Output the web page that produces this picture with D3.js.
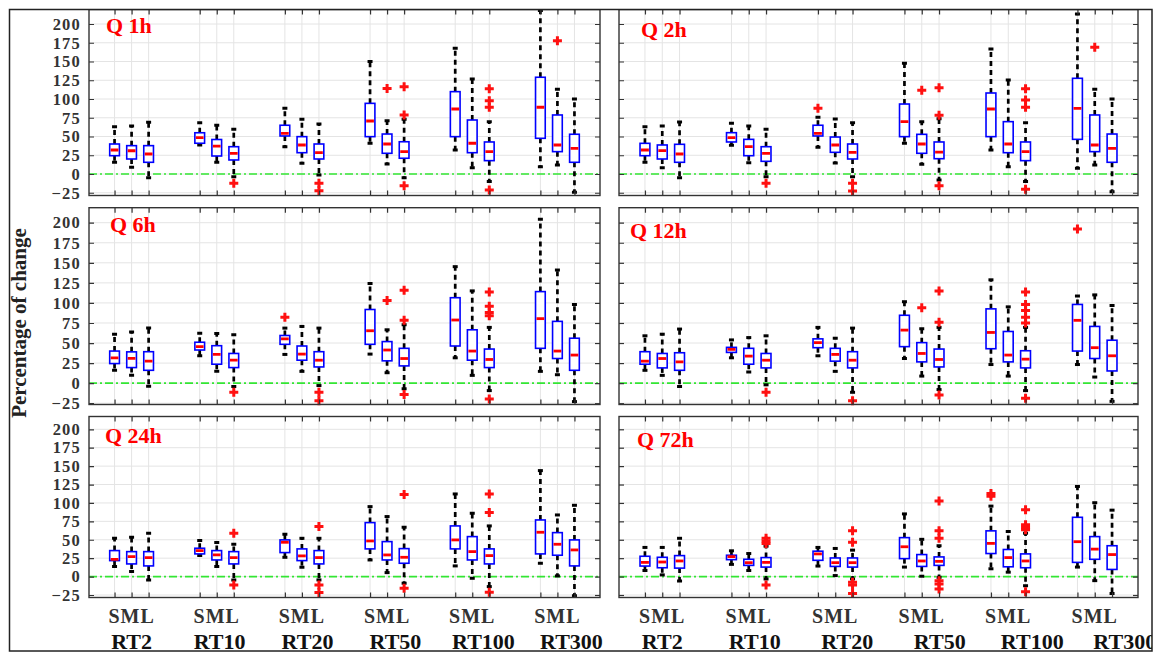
<!DOCTYPE html>
<html>
<head>
<meta charset="utf-8">
<script src="https://cdn.jsdelivr.net/npm/d3@7"></script>
<style>
  body { margin: 0; background: #fff; }
  svg { display: block; }
</style>
</head>
<body>
<svg id="chart" width="1155" height="653"></svg>
<script>
// Return-period groups and the three sub-catchment sizes inside each group
const categories = ["RT2", "RT10", "RT20", "RT50", "RT100", "RT300"];
const sizeLabel = "SML";
const panelTitles = ["Q 1h", "Q 2h", "Q 6h", "Q 12h", "Q 24h", "Q 72h"];
const yTicks = [-25, 0, 25, 50, 75, 100, 125, 150, 175, 200];
const yTitle = "Percentage of change";

// Box statistics per box: [lower whisker, Q1, median, Q3, upper whisker]
// order: RT2 S,M,L, RT10 S,M,L, ... RT300 S,M,L
const stats1h = [
  [15.6, 24.4, 32, 40, 63], [9, 20, 31, 37.8, 64], [-5, 15.6, 26.7, 37.8, 69],
  [38.7, 41, 48.4, 55, 68.4], [15.6, 24, 37.3, 46, 65], [-3.6, 18.7, 27.6, 36.4, 59.6],
  [36.4, 50.7, 54.2, 65, 87.6], [14.2, 28.4, 38.7, 49.8, 73], [-1.3, 20, 28.4, 40, 66.7],
  [41, 49.8, 70.7, 94.2, 150], [13.3, 27.6, 40, 53.3, 71], [-5, 21, 29.8, 43, 73],
  [32, 49.8, 86.7, 109.8, 167.6], [8.4, 28.4, 41, 72, 126.7], [-10, 17.8, 29.8, 42.7, 69.8],
  [9.8, 47.6, 89, 129, 218], [12, 29.8, 38.7, 78.7, 113], [-24.4, 15.6, 34.2, 53, 100]
];
const outliers1h = [
  [], [], [], [], [], [-12.4], [], [], [-12.4, -22.2],
  [], [114], [116.4, 78.7, -15.6], [], [], [113.8, 97.8, 89, -21.3], [], [177.7], []
];

const stats2h = [
  [15.6, 24.4, 32, 40.9, 63], [8.4, 20, 31.1, 38.7, 64], [-4.9, 15.6, 26.7, 39.6, 69.3],
  [38.2, 42.7, 48.4, 55.1, 67.6], [15.1, 24.4, 36.4, 46.2, 64], [-3.6, 16.9, 27.6, 36.4, 59.6],
  [35.6, 50.7, 54.2, 65, 75.6], [14.7, 28.9, 38.7, 49.3, 73.3], [-3.6, 20, 28.9, 40, 68.4],
  [40.9, 49.8, 69.8, 93.3, 147.6], [12.9, 27.6, 40, 52.9, 69.8], [-8, 20.4, 29.3, 42.7, 73.8],
  [32, 49.8, 86.7, 108, 166.7], [9.8, 28.4, 40, 69.8, 125.3], [-10, 17.8, 29.8, 42.7, 68.4],
  [7.6, 46.2, 87.6, 127.6, 213.3], [12, 29.8, 38.7, 78.7, 113], [-23.6, 15.6, 34.2, 53.3, 100]
];
const outliers2h = [
  [], [], [], [], [], [-12.4], [87.6], [], [-12.4, -22.7],
  [], [111.6], [115, 78.2, -15.6], [], [], [113.8, 98.7, 89, -20.4], [], [168.9], []
];

const stats6h = [
  [16, 24.4, 31.6, 40, 61], [9.7, 19.4, 31, 39, 63.6], [-4, 16, 27.4, 39.2, 68.6],
  [34, 41.3, 45.5, 51, 62.3], [14.7, 23.6, 35.8, 46.7, 62], [-4.2, 19.4, 28.6, 37, 60.2],
  [35.8, 48.4, 55.2, 59.4, 68.6], [14.7, 28.6, 36.2, 46.3, 70.7], [-3, 20.2, 28.6, 39.2, 68.6],
  [36.2, 48.4, 65.3, 91.8, 124.2], [13, 27.8, 41.3, 51.8, 66.5], [-7, 21.5, 30.7, 43.4, 72.8],
  [31.6, 46.3, 78.7, 106.5, 145.2], [9.7, 28.6, 40, 66.5, 115], [-9.3, 19.4, 29.5, 42.5, 69.5],
  [14.7, 43.4, 80.4, 114.1, 204.2], [10.5, 30.7, 40, 77, 141], [-23, 16, 35, 56, 98]
];
const outliers6h = [
  [], [], [], [], [], [-11.4], [82], [], [-11.4, -21.9],
  [], [103.1], [115.8, 78.3, -14.3], [], [], [113.7, 96, 88, 84, -19.8], [], [], []
];

const stats12h = [
  [16, 23.6, 27.4, 39.2, 59], [9.7, 19, 30.7, 37, 61], [-4.2, 16, 26.5, 37.9, 67.4],
  [31.6, 38.3, 42.1, 44.6, 53.9], [13.9, 23.6, 33.7, 43.4, 56.8], [-2.1, 19, 28.6, 37, 59],
  [34.1, 44.2, 50.5, 55.2, 69.5], [14.7, 27.4, 35.8, 43.4, 56], [-11.4, 19, 28.6, 39.2, 68.6],
  [30.7, 45.5, 66.1, 84.6, 101.5], [8.8, 26.5, 37, 50.5, 67.8], [-8, 20.2, 29.5, 42.5, 69.5],
  [23.2, 42.9, 63.2, 92.6, 128.8], [8.8, 26.5, 35, 64.4, 95.1], [-9.3, 19, 29.9, 40.4, 69.5],
  [23.2, 40, 78.3, 98.1, 108.6], [7.6, 30.7, 44.2, 70.7, 110], [-22.7, 15.2, 34.1, 53.5, 96.8]
];
const outliers12h = [
  [], [], [], [], [], [-11.4], [], [], [-21.9],
  [], [93.9], [114.9, 75.8, -14.7], [], [], [113.7, 98, 90.5, 82, 75, -18.9], [192], [], []
];

const stats24h = [
  [13.6, 21.7, 23.5, 35.3, 52], [6.8, 17.2, 27.2, 33.9, 53.4], [-4.5, 14.5, 25.8, 33.9, 58.8],
  [28.5, 30.8, 35.3, 38.5, 48.9], [13.6, 22.6, 29.4, 35.3, 46.2], [-4.5, 17.2, 25.8, 33.9, 43.9],
  [26.2, 32.6, 46.6, 49.8, 57.5], [12.7, 21.7, 28.1, 37.6, 52], [-4.5, 17.2, 25.8, 35.3, 52],
  [22.6, 37.6, 48.4, 73.3, 95], [5.4, 22.6, 29.4, 47.5, 81.5], [-9, 18.1, 26.2, 38, 67],
  [14.5, 37.6, 49.8, 68.8, 112.2], [-2.3, 22.6, 33.9, 54.3, 86], [-13.6, 17.2, 28.5, 37.6, 68.8],
  [18.1, 30.8, 60.2, 76.9, 143.9], [0.9, 29, 43.9, 59.7, 83.7], [-26, 14.5, 36.2, 49.8, 96.8]
];
const outliers24h = [
  [], [], [], [], [], [58.8, -11.3], [], [], [67.9, -11.3, -21.7],
  [], [], [111.3, -15.8], [], [], [112.2, 86.9, -21.3], [], [], []
];

const stats72h = [
  [8.3, 14.3, 19.3, 27.6, 39.6], [2.3, 12, 19.8, 26.2, 39.6], [-6, 11.5, 21.2, 28.5, 52],
  [16.6, 23, 27.1, 29, 35], [8.3, 15.2, 18.9, 23.5, 31.3], [-3.2, 12.9, 19.3, 25.8, 41.4],
  [14.3, 22.1, 30.8, 34.5, 39.6], [1.4, 13.8, 18.9, 25.3, 38.2], [-3.2, 12.9, 18.9, 25.3, 35.9],
  [12.9, 24.4, 40.5, 52.9, 85.1], [0.5, 13.8, 21.2, 29.9, 50.6], [-1, 15.2, 20.7, 26.7, 41.9],
  [10.6, 31.3, 45.1, 62.1, 95.7], [6, 13.3, 25.8, 36.8, 61.2], [-12.4, 12, 21.2, 30.8, 58.9],
  [12.9, 19.3, 47.4, 80.5, 122.4], [-5.5, 23.5, 37.3, 54.3, 100.3], [-23, 9.7, 29.9, 41.9, 90.2]
];
const outliers72h = [
  [], [], [], [], [], [52, 48.3, 45, -11.5], [], [], [62.1, 46.5, -7.8, -11.5, -23],
  [], [], [102.6, 62.1, 52, -5.5, -10, -17], [112.7, 109], [], [90.6, 70.4, 66.7, 63.5, -20.7], [], [], []
];

// ---- layout ----
const FONT = "'Liberation Serif','Times New Roman',serif";
const cols = [{ x0: 89, x1: 600, drift: 2.8 }, { x0: 619, x1: 1138, drift: 6 }];
const rows = [
  { top: 9.5, bottom: 195.5, y200: 24, ym25: 192.75 },
  { top: 207.7, bottom: 404.5, y200: 222.7, ym25: 403.2 },
  { top: 416.5, bottom: 597.5, y200: 429.3, ym25: 595 }
];
const titleOffsets = [[17, 23], [22, 27], [21, 24], [11, 30], [16, 26], [18, 30]];

const panels = [
  { stats: stats1h, out: outliers1h },
  { stats: stats2h, out: outliers2h },
  { stats: stats6h, out: outliers6h },
  { stats: stats12h, out: outliers12h },
  { stats: stats24h, out: outliers24h },
  { stats: stats72h, out: outliers72h }
].map((p, i) => ({ ...p, title: panelTitles[i], row: Math.floor(i / 2), col: i % 2, idx: i }));

// box slot index: three slots per group, groups five slots apart
const slots = d3.range(categories.length * 3).map(i => Math.floor(i / 3) * 5 + (i % 3));

const svg = d3.select("#chart");
svg.append("rect").attr("width", 1155).attr("height", 653).attr("fill", "#fff");
svg.append("defs").append("clipPath").attr("id", "figclip")
  .append("rect").attr("x", 9.5).attr("y", 9.5).attr("width", 1142.5).attr("height", 641.5);
const fig = svg.append("g").attr("clip-path", "url(#figclip)");

panels.forEach(p => {
  const c = cols[p.col], r = rows[p.row];
  const x = d3.scaleLinear().domain([-1.5, 28.5]).range([c.x0, c.x1]);
  const y = d3.scaleLinear().domain([-25, 200]).range([r.ym25, r.y200]);
  const g = fig.append("g");
  const bw = x(0.57) - x(0);

  // grid
  g.append("g").selectAll("line").data(slots).join("line")
    .attr("x1", d => x(d)).attr("x2", d => x(d))
    .attr("y1", r.top).attr("y2", r.bottom)
    .attr("stroke", "#e4e4e4").attr("stroke-width", 1);
  g.append("g").selectAll("line").data(yTicks).join("line")
    .attr("x1", c.x0).attr("x2", c.x1)
    .attr("y1", d => y(d)).attr("y2", d => y(d))
    .attr("stroke", "#e4e4e4").attr("stroke-width", 1);

  // zero reference line
  g.append("line")
    .attr("x1", c.x0).attr("x2", c.x1).attr("y1", y(0)).attr("y2", y(0))
    .attr("stroke", "#33e633").attr("stroke-width", 1.7)
    .attr("stroke-dasharray", "8,3,2,3");

  const boxes = g.append("g").selectAll("g").data(p.stats).join("g")
    .attr("transform", (d, i) => `translate(${x(slots[i])},0)`);

  // whiskers
  boxes.append("line")
    .attr("y1", d => y(d[3])).attr("y2", d => y(d[4]))
    .attr("stroke", "#000").attr("stroke-width", 2.7).attr("stroke-dasharray", "5,4");
  boxes.append("line")
    .attr("y1", d => y(d[1])).attr("y2", d => y(d[0]))
    .attr("stroke", "#000").attr("stroke-width", 2.7).attr("stroke-dasharray", "5,4");
  // whisker ends
  [0, 4].forEach(k => {
    boxes.append("line")
      .attr("x1", -2.5).attr("x2", 2.5)
      .attr("y1", d => y(d[k])).attr("y2", d => y(d[k]))
      .attr("stroke", "#000").attr("stroke-width", 3);
  });
  // box
  boxes.append("rect")
    .attr("x", -bw / 2).attr("width", bw)
    .attr("y", d => y(d[3])).attr("height", d => y(d[1]) - y(d[3]))
    .attr("fill", "#fff").attr("stroke", "#0000ff").attr("stroke-width", 1.6);
  // median
  boxes.append("line")
    .attr("x1", -bw / 2 + 1).attr("x2", bw / 2 - 1)
    .attr("y1", d => y(d[2])).attr("y2", d => y(d[2]))
    .attr("stroke", "#ff0000").attr("stroke-width", 2.8);

  // outliers
  const pts = [];
  p.out.forEach((arr, i) => arr.forEach(v => pts.push({ s: slots[i], v })));
  g.append("g").selectAll("path").data(pts).join("path")
    .attr("d", d => {
      const cx = x(d.s), cy = y(d.v), h = 4.5;
      return `M${cx - h},${cy}H${cx + h}M${cx},${cy - h}V${cy + h}`;
    })
    .attr("stroke", "#ff1010").attr("stroke-width", 3).attr("fill", "none");

  // inward ticks on all four sides
  const axL = d3.axisLeft(y).tickValues(yTicks).tickSize(-5).tickSizeOuter(0).tickPadding(8)
    .tickFormat(p.col === 0 ? d3.format("d") : () => "");
  const axR = d3.axisRight(y).tickValues(yTicks).tickSize(-5).tickSizeOuter(0).tickFormat(() => "");
  const axT = d3.axisTop(x).tickValues(slots).tickSize(-5).tickSizeOuter(0).tickFormat(() => "");
  const axB = d3.axisBottom(x).tickValues(slots).tickSize(-5).tickSizeOuter(0).tickFormat(() => "");
  [[axL, `translate(${c.x0},0)`], [axR, `translate(${c.x1},0)`],
   [axT, `translate(0,${r.top})`], [axB, `translate(0,${r.bottom})`]].forEach(([ax, tr]) => {
    const a = g.append("g").attr("transform", tr).call(ax);
    a.select(".domain").remove();
    a.selectAll(".tick line").attr("stroke", "#333").attr("stroke-width", 1.2);
    a.selectAll("text").attr("font-family", FONT).attr("font-weight", "bold")
      .attr("font-size", 16.5).attr("letter-spacing", 1.2).attr("fill", "#333");
  });

  // frame
  g.append("rect")
    .attr("x", c.x0).attr("y", r.top).attr("width", c.x1 - c.x0).attr("height", r.bottom - r.top)
    .attr("fill", "none").attr("stroke", "#333").attr("stroke-width", 1.4);

  // panel title
  const [tx, ty] = titleOffsets[p.idx];
  g.append("text").attr("x", c.x0 + tx).attr("y", r.top + ty)
    .attr("font-family", FONT).attr("font-weight", "bold").attr("font-size", 22)
    .attr("fill", "#ff0000").text(p.title);

  // category labels under the bottom row
  if (p.row === 2) {
    g.append("g").selectAll("text").data(categories).join("text")
      .attr("x", (d, i) => x(i * 5 + 1)).attr("y", 623)
      .attr("text-anchor", "middle").attr("font-family", FONT).attr("font-weight", "bold")
      .attr("font-size", 20).attr("letter-spacing", 1).attr("fill", "#333")
      .text(sizeLabel);
    g.append("g").selectAll("text").data(categories).join("text")
      .attr("x", (d, i) => x(i * 5 + 1) + c.drift * i).attr("y", 649)
      .attr("text-anchor", "middle").attr("font-family", FONT).attr("font-weight", "bold")
      .attr("font-size", 22).attr("fill", "#111")
      .text(d => d);
  }
});

// shared y title
fig.append("text")
  .attr("transform", "translate(26,323) rotate(-90)")
  .attr("text-anchor", "middle").attr("font-family", FONT).attr("font-weight", "bold")
  .attr("font-size", 21).attr("fill", "#222").text(yTitle);

// outer frame
svg.append("rect").attr("x", 9.5).attr("y", 9.5).attr("width", 1142.5).attr("height", 641.5)
  .attr("fill", "none").attr("stroke", "#222").attr("stroke-width", 1.5);
</script>
</body>
</html>
